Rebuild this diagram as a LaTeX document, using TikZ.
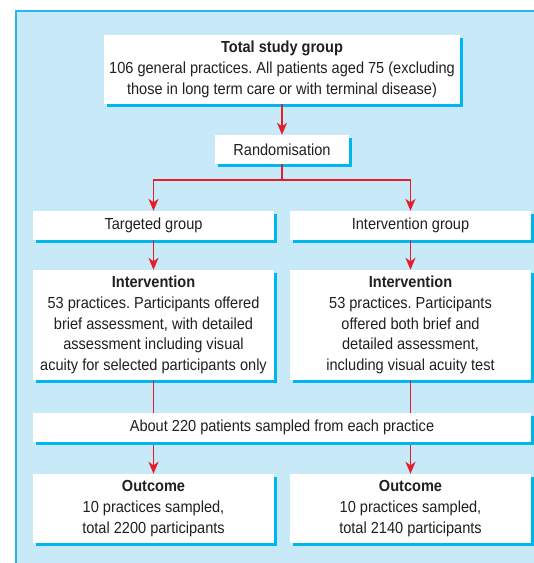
\documentclass[tikz,border=0pt]{standalone}
\usepackage{fontspec}
\setmainfont{Liberation Sans}[FakeStretch=0.91]
\usetikzlibrary{arrows.meta,shadows}

\definecolor{panelblue}{HTML}{C8EAF8}
\definecolor{panelline}{HTML}{29B5E8}
\definecolor{shadowblue}{HTML}{00B6EE}
\definecolor{arrowred}{HTML}{E31E2D}
\definecolor{textgrey}{HTML}{231F20}

\begin{document}
\frenchspacing
\begin{tikzpicture}[x=1pt,y=-1pt,>={Stealth[length=12pt,width=10pt,inset=3.5pt]},
  arr/.style={->,draw=arrowred,line width=1.8pt},
  box node/.style={rectangle,fill=white,inner sep=0pt,align=center,
    text=textgrey,font=\fontsize{16}{20.7}\selectfont,
    drop shadow={shadow xshift=3pt,shadow yshift=-3pt,
      fill=shadowblue,opacity=1}},
  wide box/.style={box node,minimum width=241pt}]

  \useasboundingbox (0,0) rectangle (534,563);
  \fill[panelblue] (16,11) rectangle (540,570);
  \draw[panelline,line width=1.5pt] (16,570) -- (16,11) -- (540,11);

  \node[box node,minimum width=356pt,minimum height=69pt] (total) at (282,69.5)
    {\textbf{Total study group}\\106 general practices. All patients aged 75 (excluding\\those in long term care or with terminal disease)};
  \node[box node,minimum width=134pt,minimum height=29pt] (rand) at (282,149.5)
    {Randomisation};

  \node[wide box,minimum height=29pt] (targ) at (153.5,225.5) {Targeted group};
  \node[wide box,minimum height=29pt] (igrp) at (410.5,225.5) {Intervention group};

  \node[wide box,minimum height=110pt] (intL) at (153.5,325)
    {\textbf{Intervention}\\53 practices. Participants offered\\brief assessment, with detailed\\assessment including visual\\acuity for selected participants only};
  \node[wide box,minimum height=110pt] (intR) at (410.5,325)
    {\textbf{Intervention}\\53 practices. Participants\\offered both brief and\\detailed assessment,\\including visual acuity test};

  \node[wide box,minimum height=69pt] (outL) at (153.5,508.5)
    {\textbf{Outcome}\\10 practices sampled,\\total 2200 participants};
  \node[wide box,minimum height=69pt] (outR) at (410.5,508.5)
    {\textbf{Outcome}\\10 practices sampled,\\total 2140 participants};

  \coordinate (split) at (282,180);

  \draw[arr] (total) -- (rand);
  \draw[draw=arrowred,line width=1.8pt] (rand) -- (split);
  \draw[arr] (split) -| (targ);
  \draw[arr] (split) -| (igrp);
  \draw[arr] (targ) -- (intL);
  \draw[arr] (igrp) -- (intR);
  % sampling box sits on top of the two long arrows
  \draw[arr] (intL) -- (outL);
  \draw[arr] (intR) -- (outR);

  \node[box node,minimum width=498pt,minimum height=29pt] (about) at (282,427.5)
    {About 220 patients sampled from each practice};

\end{tikzpicture}
\end{document}
